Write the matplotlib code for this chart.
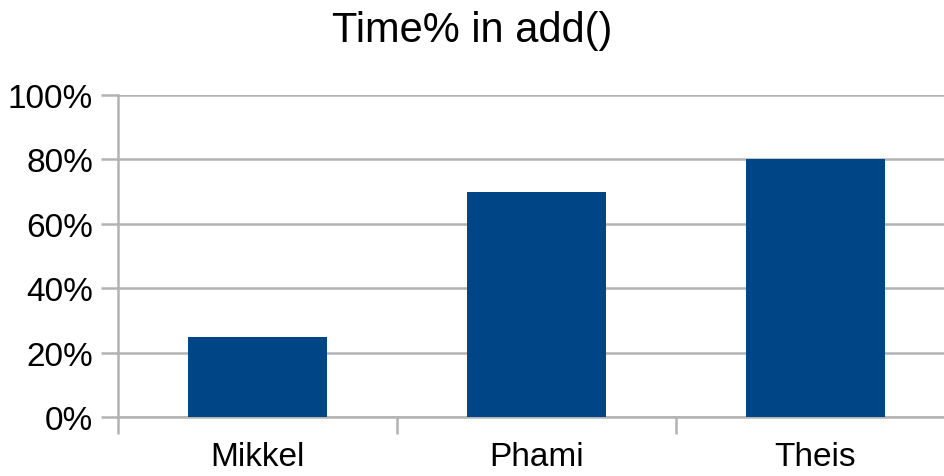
import matplotlib
matplotlib.use("Agg")
import matplotlib.pyplot as plt
from matplotlib.ticker import FixedLocator, PercentFormatter

names = ["Mikkel", "Phami", "Theis"]
time_pct = [25, 70, 80]
y_ticks = [0, 20, 40, 60, 80, 100]

plt.rcParams['font.family'] = ['Liberation Sans', 'DejaVu Sans']

grid_col = "#b3b3b3"
bar_col = "#004586"

fig = plt.figure(figsize=(9.45, 4.77), dpi=100)
ax = fig.add_axes([118 / 945, 59 / 477, 837 / 945, 322 / 477])

x = list(range(len(names)))
ax.bar(x, time_pct, width=0.5, color=bar_col, zorder=3)

ax.set_xlim(-0.5, len(names) - 0.5)
ax.set_ylim(0, 100)
ax.set_yticks(y_ticks)
ax.yaxis.set_major_formatter(PercentFormatter(decimals=0))
ax.yaxis.grid(True, color=grid_col, linewidth=1.8, zorder=0)

# category labels centred, ticks on the category boundaries
ax.set_xticks(x)
ax.set_xticklabels(names)
ax.tick_params(axis='x', which='major', length=0, labelsize=24, pad=17)
ax.xaxis.set_minor_locator(FixedLocator([i - 0.5 for i in range(len(names) + 1)]))
ax.tick_params(axis='x', which='minor', length=12, width=1.8, color=grid_col)
ax.tick_params(axis='y', length=12, width=1.8, color=grid_col, labelsize=24, pad=6)

for s in ["top", "right"]:
    ax.spines[s].set_visible(False)
for s in ["left", "bottom"]:
    ax.spines[s].set_color(grid_col)
    ax.spines[s].set_linewidth(1.8)

fig.text(0.5, 0.935, "Time% in add()", ha="center", va="center", fontsize=30)

fig.savefig("out.png", dpi=100)
